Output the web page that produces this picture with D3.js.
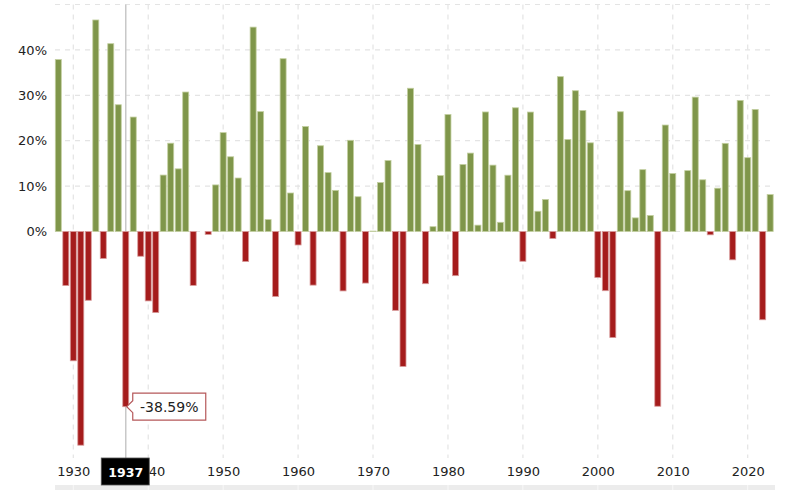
<!DOCTYPE html>
<html>
<head>
<meta charset="utf-8">
<script src="https://cdn.jsdelivr.net/npm/d3@7"></script>
<style>
  html, body { margin: 0; padding: 0; background: #fff; }
  text { font-family: "DejaVu Sans", sans-serif; }
</style>
</head>
<body>
<svg id="chart" width="800" height="490"></svg>
<script>
const years = [
  1928, 1929, 1930, 1931, 1932, 1933, 1934, 1935, 1936, 1937, 1938, 1939,
  1940, 1941, 1942, 1943, 1944, 1945, 1946, 1947, 1948, 1949, 1950, 1951,
  1952, 1953, 1954, 1955, 1956, 1957, 1958, 1959, 1960, 1961, 1962, 1963,
  1964, 1965, 1966, 1967, 1968, 1969, 1970, 1971, 1972, 1973, 1974, 1975,
  1976, 1977, 1978, 1979, 1980, 1981, 1982, 1983, 1984, 1985, 1986, 1987,
  1988, 1989, 1990, 1991, 1992, 1993, 1994, 1995, 1996, 1997, 1998, 1999,
  2000, 2001, 2002, 2003, 2004, 2005, 2006, 2007, 2008, 2009, 2010, 2011,
  2012, 2013, 2014, 2015, 2016, 2017, 2018, 2019, 2020, 2021, 2022, 2023
]
const returns = [
  37.88, -11.91, -28.48, -47.07, -15.15, 46.59, -5.94, 41.37, 27.92, -38.59, 25.21, -5.45,
  -15.29, -17.86, 12.43, 19.45, 13.8, 30.72, -11.87, 0, -0.65, 10.26, 21.78, 16.46,
  11.78, -6.62, 45.02, 26.4, 2.62, -14.31, 38.06, 8.48, -2.97, 23.13, -11.81, 18.89,
  12.97, 9.06, -13.09, 20.09, 7.66, -11.36, 0.1, 10.79, 15.63, -17.37, -29.72, 31.55,
  19.15, -11.5, 1.06, 12.31, 25.77, -9.73, 14.76, 17.27, 1.4, 26.33, 14.62, 2.03,
  12.4, 27.25, -6.56, 26.31, 4.46, 7.06, -1.54, 34.11, 20.26, 31.01, 26.67, 19.53,
  -10.14, -13.04, -23.37, 26.38, 8.99, 3, 13.62, 3.53, -38.49, 23.45, 12.78, 0,
  13.41, 29.6, 11.39, -0.73, 9.54, 19.42, -6.24, 28.88, 16.26, 26.89, -19.44, 8.13
]
const xTicks = [1930, 1940, 1950, 1960, 1970, 1980, 1990, 2000, 2010, 2020]
const yLabels = [0, 10, 20, 30, 40]
const yGrid = [0, 10, 20, 30, 40, 50]
const activeYear = 1937

const svg = d3.select('#chart')
const x = d3.scaleLinear().domain([1930, 2020]).range([73.3, 747.7])
const y = d3.scaleLinear().domain([0, 50]).range([231.5, 4.5])
const barWidth = 6
const left = 55
const right = 770
const bottom = 458

const activeValue = returns[years.indexOf(activeYear)]
const ax = x(activeYear)
const ay = y(activeValue)

// navigator strip along the bottom edge
svg.append('rect')
  .attr('x', left).attr('y', 485).attr('width', right + 5 - left).attr('height', 5)
  .attr('fill', '#ececec')
svg.append('g')
  .selectAll('line')
  .data(xTicks)
  .join('line')
  .attr('x1', d => x(d)).attr('x2', d => x(d))
  .attr('y1', 485).attr('y2', 490)
  .attr('stroke', '#f8f8f8')

// grid
svg.append('g')
  .selectAll('line')
  .data(yGrid)
  .join('line')
  .attr('x1', left).attr('x2', right)
  .attr('y1', d => y(d)).attr('y2', d => y(d))
  .attr('stroke', '#e4e4e4')
  .attr('stroke-width', 1.2)
  .attr('stroke-dasharray', '5,5')
svg.append('g')
  .selectAll('line')
  .data(xTicks)
  .join('line')
  .attr('x1', d => x(d)).attr('x2', d => x(d))
  .attr('y1', y(50)).attr('y2', bottom)
  .attr('stroke', '#e4e4e4')
  .attr('stroke-width', 1.2)
  .attr('stroke-dasharray', '5,5')

// crosshair sits behind the bars
svg.append('line')
  .attr('x1', ax).attr('x2', ax)
  .attr('y1', y(50)).attr('y2', bottom)
  .attr('stroke', '#c8c8c8')
  .attr('stroke-width', 1.5)

// bars
const bars = years.map((year, i) => ({ year, value: returns[i] }))
svg.append('g')
  .selectAll('rect')
  .data(bars)
  .join('rect')
  .attr('x', d => x(d.year) - barWidth / 2)
  .attr('y', d => y(Math.max(d.value, 0)))
  .attr('width', barWidth)
  .attr('height', d => Math.abs(y(d.value) - y(0)))
  .attr('fill', d => d.value >= 0 ? '#7f964a' : '#a51c1c')
  .attr('stroke', d => d.value >= 0 ? '#c3cfa0' : '#d89a9a')
  .attr('stroke-width', 0.8)

// axes
const yAxis = d3.axisLeft(y)
  .tickValues(yLabels)
  .tickFormat(d => d + '%')
  .tickSize(0)
  .tickPadding(0)
svg.append('g')
  .attr('transform', 'translate(47,0)')
  .call(yAxis)
  .call(g => g.select('.domain').remove())
  .selectAll('text')
  .attr('font-size', 13)
  .attr('fill', '#222')
  .style('font-family', '"DejaVu Sans", sans-serif')

const xAxis = d3.axisBottom(x)
  .tickValues(xTicks)
  .tickFormat(d3.format('d'))
  .tickSize(0)
  .tickPadding(0)
svg.append('g')
  .attr('transform', 'translate(0,467)')
  .call(xAxis)
  .call(g => g.select('.domain').remove())
  .selectAll('text')
  .attr('font-size', 13)
  .attr('fill', '#222')
  .style('font-family', '"DejaVu Sans", sans-serif')

// year flag and tooltip for the active year
svg.append('rect')
  .attr('x', ax - 24.5).attr('y', bottom).attr('width', 48).attr('height', 27)
  .attr('fill', '#000')
  .attr('stroke', '#555')
  .attr('stroke-width', 0.8)
svg.append('text')
  .attr('x', ax).attr('y', bottom + 19)
  .attr('text-anchor', 'middle')
  .attr('font-size', 12.5)
  .attr('font-weight', 'bold')
  .attr('fill', '#fff')
  .text(activeYear)

const tipL = ax + 7
const tipW = 73
const tipH = 27
const tip = d3.path()
tip.moveTo(ax + 1, ay)
tip.lineTo(tipL, ay - 6)
tip.lineTo(tipL, ay - tipH / 2)
tip.lineTo(tipL + tipW, ay - tipH / 2)
tip.lineTo(tipL + tipW, ay + tipH / 2)
tip.lineTo(tipL, ay + tipH / 2)
tip.lineTo(tipL, ay + 6)
tip.closePath()
svg.append('path')
  .attr('d', tip.toString())
  .attr('fill', '#fff')
  .attr('stroke', '#b5585a')
  .attr('stroke-width', 1.2)
svg.append('text')
  .attr('x', tipL + tipW / 2).attr('y', ay + 5)
  .attr('text-anchor', 'middle')
  .attr('font-size', 14)
  .attr('fill', '#222')
  .text(activeValue.toFixed(2) + '%')
</script>
</body>
</html>
